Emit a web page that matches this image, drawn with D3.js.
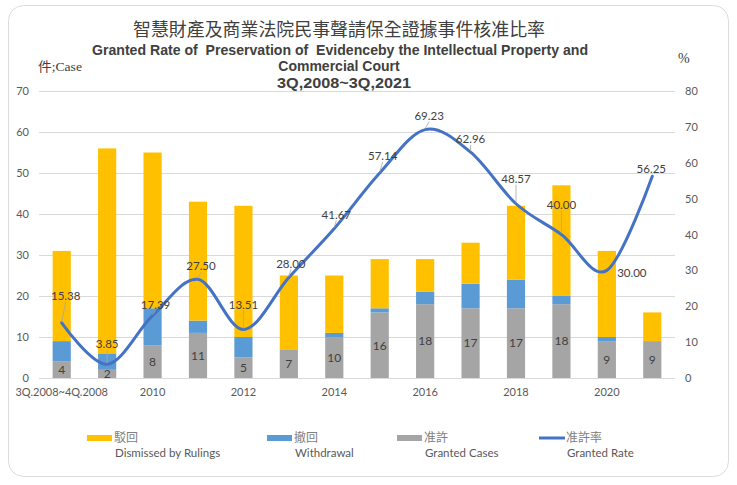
<!DOCTYPE html>
<html>
<head>
<meta charset="utf-8">
<script src="https://cdn.jsdelivr.net/npm/d3@7/dist/d3.min.js"></script>
<style>
  html, body { margin: 0; padding: 0; background: #ffffff; }
  svg { display: block; }
  text { white-space: pre; }
</style>
</head>
<body>
<svg id="chart" width="737" height="485"></svg>
<script>
// ---- data ----
const categories = ["2008","2009","2010","2011","2012","2013","2014","2015","2016","2017","2018","2019","2020","2021"];
const tickCategories = ["2008","2010","2012","2014","2016","2018","2020"];
const tickLabels = ["3Q.2008~4Q.2008","2010","2012","2014","2016","2018","2020"];
const granted    = [4, 2, 8, 11, 5, 7, 10, 16, 18, 17, 17, 18, 9, 9];
const withdrawal = [5, 4, 9, 3, 5, 0, 1, 1, 3, 6, 7, 2, 1, 0];
const dismissed  = [22, 50, 38, 29, 32, 18, 14, 12, 8, 10, 18, 27, 21, 7];
const rate       = [15.38, 3.85, 17.39, 27.50, 13.51, 28.00, 41.67, 57.14, 69.23, 62.96, 48.57, 40.00, 30.00, 56.25];
const leftTicks  = [0, 10, 20, 30, 40, 50, 60, 70];
const rightTicks = [0, 10, 20, 30, 40, 50, 60, 70, 80];

// label placement offsets (px) for the rate data labels, relative to each point
const rateLabelOffset = [[4,-27],[0,-20],[3,-11],[3,-13],[0,-25],[2,-14],[2,-14],[3,-17],[4,-14],[0,-13],[0,-25],[0,-30],[25,2],[-1,-7]];

// ---- layout ----
const svg = d3.select("#chart");
const plot = { left: 39, right: 675, top: 91, bottom: 378 };
const colors = { dismissed: "#FFC000", withdrawal: "#5B9BD5", granted: "#A5A5A5", rate: "#4472C4" };
const tickFont = "Lato, 'Open Sans', sans-serif";

// card
svg.append("rect")
  .attr("x", 8.5).attr("y", 5.5).attr("width", 720).attr("height", 471)
  .attr("rx", 15).attr("ry", 15)
  .attr("fill", "#ffffff").attr("stroke", "#dcdcdc").attr("stroke-width", 1);

// scales
const x = d3.scaleBand().domain(categories).range([plot.left, plot.right]).paddingInner(0.6).paddingOuter(0.3);
const yL = d3.scaleLinear().domain([0, 70]).range([plot.bottom, plot.top]);
const yR = d3.scaleLinear().domain([0, 80]).range([plot.bottom, plot.top]);

// gridlines
svg.append("g").selectAll("line").data(leftTicks).join("line")
  .attr("x1", plot.left).attr("x2", plot.right)
  .attr("y1", d => Math.round(yL(d)) + 0.5).attr("y2", d => Math.round(yL(d)) + 0.5)
  .attr("stroke", "#d9d9d9").attr("stroke-width", 1);

// axes
const axL = svg.append("g").attr("transform", `translate(${plot.left},0)`)
  .call(d3.axisLeft(yL).tickValues(leftTicks).tickSize(0).tickPadding(10));
const axR = svg.append("g").attr("transform", `translate(${plot.right},0)`)
  .call(d3.axisRight(yR).tickValues(rightTicks).tickSize(0).tickPadding(10));
const axB = svg.append("g").attr("transform", `translate(0,${plot.bottom})`)
  .call(d3.axisBottom(x).tickValues(tickCategories).tickFormat((d, i) => tickLabels[i]).tickSize(0).tickPadding(10));
[axL, axR, axB].forEach(a => {
  a.select(".domain").remove();
  a.selectAll("text").attr("fill", "#595959").style("font-family", tickFont).style("font-size", "11px");
});

// stacked bars
const rows = categories.map((c, i) => ({ cat: c, granted: granted[i], withdrawal: withdrawal[i], dismissed: dismissed[i] }));
const keys = ["granted", "withdrawal", "dismissed"];
const stack = d3.stack().keys(keys)(rows);
svg.append("g").selectAll("g").data(stack).join("g")
  .attr("fill", d => colors[d.key])
  .selectAll("rect").data(d => d).join("rect")
  .attr("x", d => x(d.data.cat))
  .attr("width", x.bandwidth())
  .attr("y", d => yL(d[1]))
  .attr("height", d => yL(d[0]) - yL(d[1]));

// granted value labels
svg.append("g").selectAll("text").data(stack[0]).join("text")
  .attr("x", d => x(d.data.cat) + x.bandwidth() / 2)
  .attr("y", d => (yL(d[0]) + yL(d[1])) / 2)
  .attr("dy", "0.36em")
  .attr("text-anchor", "middle")
  .attr("fill", "#404040")
  .style("font-family", tickFont).style("font-size", "12px")
  .text(d => d.data.granted);

// rate line
const pts = categories.map((c, i) => [x(c) + x.bandwidth() / 2, yR(rate[i])]);
svg.append("path")
  .attr("d", d3.line().curve(d3.curveCardinal.tension(0))(pts))
  .attr("fill", "none").attr("stroke", colors.rate).attr("stroke-width", 3)
  .attr("stroke-linecap", "round");

// leader lines & rate labels
const lab = svg.append("g");
pts.forEach((p, i) => {
  const [dx, dy] = rateLabelOffset[i];
  const cx = p[0] + dx, cy = p[1] + dy;
  const by = cy + 6;
  if (dy < 0 && p[1] - by > 4) {
    lab.append("line")
      .attr("x1", cx).attr("y1", by).attr("x2", p[0]).attr("y2", p[1] - 1)
      .attr("stroke", "#a6a6a6").attr("stroke-width", 0.8);
  }
  lab.append("text")
    .attr("x", cx).attr("y", cy).attr("dy", "0.36em")
    .attr("text-anchor", "middle")
    .attr("fill", "#404040")
    .style("font-family", tickFont).style("font-size", "11.5px")
    .text(rate[i].toFixed(2));
});

// titles
svg.append("text").attr("x", 133).attr("y", 36)
  .attr("textLength", 412).attr("lengthAdjust", "spacingAndGlyphs")
  .attr("fill", "#404040")
  .style("font-family", "'Noto Sans CJK TC', 'Noto Sans CJK SC', sans-serif").style("font-size", "18px")
  .text("智慧財產及商業法院民事聲請保全證據事件核准比率");
const titleFont = "'Liberation Sans', Arial, sans-serif";
svg.append("text").attr("x", 92).attr("y", 55)
  .attr("textLength", 496).attr("lengthAdjust", "spacingAndGlyphs")
  .attr("fill", "#404040")
  .style("font-family", titleFont).style("font-weight", "bold").style("font-size", "14px")
  .text("Granted Rate of  Preservation of  Evidenceby the Intellectual Property and");
svg.append("text").attr("x", 339).attr("y", 71).attr("text-anchor", "middle")
  .attr("fill", "#404040")
  .style("font-family", titleFont).style("font-weight", "bold").style("font-size", "14px")
  .text("Commercial Court");
svg.append("text").attr("x", 277).attr("y", 88)
  .attr("textLength", 134).attr("lengthAdjust", "spacingAndGlyphs")
  .attr("fill", "#404040")
  .style("font-family", titleFont).style("font-weight", "bold").style("font-size", "14.5px")
  .text("3Q,2008~3Q,2021");

// unit labels
svg.append("text").attr("x", 38).attr("y", 71)
  .attr("textLength", 44).attr("lengthAdjust", "spacingAndGlyphs")
  .attr("fill", "#404040").style("font-family", "'Liberation Serif', 'Noto Sans CJK TC', serif").style("font-size", "13px")
  .text("件;Case");
svg.append("text").attr("x", 678).attr("y", 63)
  .attr("fill", "#404040").style("font-family", "'Liberation Serif', serif").style("font-size", "14px")
  .text("%");

// legend
const legendItems = [
  { zh: "駁回", en: "Dismissed by Rulings", color: colors.dismissed, type: "rect", x: 87 },
  { zh: "撤回", en: "Withdrawal", color: colors.withdrawal, type: "rect", x: 267 },
  { zh: "准許", en: "Granted Cases", color: colors.granted, type: "rect", x: 397 },
  { zh: "准許率", en: "Granted Rate", color: colors.rate, type: "line", x: 539 }
];
const lg = svg.append("g").selectAll("g").data(legendItems).join("g")
  .attr("transform", d => `translate(${d.x},0)`);
lg.filter(d => d.type === "rect").append("rect")
  .attr("x", 0).attr("y", 435).attr("width", 25).attr("height", 6).attr("fill", d => d.color);
lg.filter(d => d.type === "line").append("line")
  .attr("x1", 0).attr("x2", 26).attr("y1", 438).attr("y2", 438)
  .attr("stroke", d => d.color).attr("stroke-width", 3);
lg.append("text").attr("x", 27).attr("y", 438).attr("dy", "0.36em")
  .attr("fill", "#808080")
  .style("font-family", "'Noto Sans CJK TC', sans-serif").style("font-size", "12px")
  .text(d => d.zh);
lg.append("text").attr("x", 28).attr("y", 453).attr("dy", "0.36em")
  .attr("fill", "#595959")
  .style("font-family", tickFont).style("font-size", "11.5px")
  .text(d => d.en);
</script>
</body>
</html>
